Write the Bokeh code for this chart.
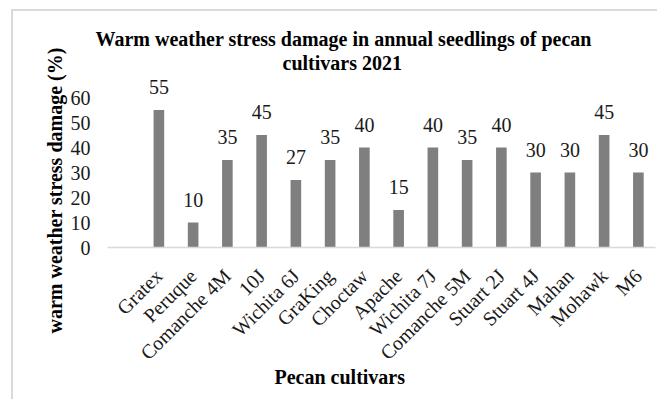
import math
from bokeh.plotting import figure
from bokeh.models import Range1d, FixedTicker, Title, ColumnDataSource
from bokeh.core.properties import value
from bokeh.embed import file_html
from bokeh.resources import INLINE

cultivars = ["Gratex", "Peruque", "Comanche 4M", "10J", "Wichita 6J", "GraKing",
             "Choctaw", "Apache", "Wichita 7J", "Comanche 5M", "Stuart 2J",
             "Stuart 4J", "Mahan", "Mohawk", "M6"]
damage = [55, 10, 35, 45, 27, 35, 40, 15, 40, 35, 40, 30, 30, 45, 30]
y_ticks = [0, 10, 20, 30, 40, 50, 60]

title_line1 = "Warm weather stress damage in annual seedlings of pecan"
title_line2 = "cultivars 2021"
y_label = "warm weather stress damage (%)"
x_label = "Pecan cultivars"

FONT = "Liberation Serif"
TXT = "#1a1a1a"

positions = list(range(1, len(cultivars) + 1))
src = ColumnDataSource(dict(x=positions, top=damage, lab=[str(v) for v in damage]))

p = figure(width=646, height=390, output_backend="svg", toolbar_location=None,
           x_range=Range1d(-0.5, len(cultivars) + 0.5), y_range=Range1d(0, 68),
           min_border_left=94, min_border_right=4, min_border_top=66, min_border_bottom=154)
p.styles = {"border-left": "2px solid #d9d9d9", "border-top": "2px solid #d9d9d9",
            "margin-left": "11px", "margin-top": "9px"}
p.outline_line_color = None
p.xgrid.grid_line_color = None
p.ygrid.grid_line_color = None
p.background_fill_color = "white"
p.border_fill_color = "white"

p.vbar(x="x", top="top", width=0.31, source=src, fill_color="#7f7f7f", line_color=None)
p.text(x="x", y="top", text="lab", source=src, text_align="center", text_baseline="middle",
       y_offset=-23, text_font=value(FONT), text_font_size="20px", text_color=TXT)

# y axis
p.yaxis.ticker = FixedTicker(ticks=y_ticks)
p.yaxis.axis_line_color = None
p.yaxis.major_tick_line_color = None
p.yaxis.minor_tick_line_color = None
p.yaxis.major_tick_out = 0
p.yaxis.major_tick_in = 0
p.yaxis.major_label_standoff = 17
p.yaxis.major_label_text_font = FONT
p.yaxis.major_label_text_font_size = "20px"
p.yaxis.major_label_text_color = TXT

# x axis
p.xaxis.ticker = FixedTicker(ticks=positions)
p.xaxis.major_label_overrides = {pos: name for pos, name in zip(positions, cultivars)}
p.xaxis.major_label_orientation = math.pi / 4
p.xaxis.axis_line_color = "#d9d9d9"
p.xaxis.axis_line_width = 1.5
p.xaxis.major_tick_line_color = None
p.xaxis.minor_tick_line_color = None
p.xaxis.major_tick_out = 0
p.xaxis.major_tick_in = 0
p.xaxis.major_label_standoff = 25
p.xaxis.major_label_text_font = FONT
p.xaxis.major_label_text_font_size = "20px"
p.xaxis.major_label_text_color = TXT

def bold_title(text, align, offset, standoff):
    return Title(text=text, align=align, offset=offset, standoff=standoff,
                 text_font=FONT, text_font_size="20px", text_font_style="bold",
                 text_color="black")

# title: nearest line first
p.add_layout(bold_title(title_line2, "left", 175, 8), "above")
p.add_layout(bold_title(title_line1, "left", -12, -8), "above")
p.add_layout(bold_title(y_label, "left", -86, 4), "left")
p.add_layout(bold_title(x_label, "left", 167, -21), "below")

open("out.html", "w").write(file_html(p, INLINE))
